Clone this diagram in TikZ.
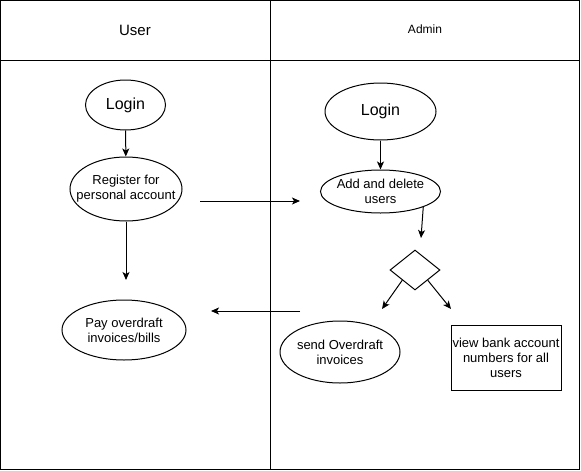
\documentclass[tikz,border=0pt]{standalone}
\usepackage{fontspec}
\setmainfont{Liberation Sans}
\usepackage {tikz}
\usetikzlibrary{shapes.geometric}
\usetikzlibrary{arrows.meta}
\tikzset{
    usecase/.style = {ellipse,draw,line width=1pt,inner sep=0pt,inner xsep=-6pt,align=center,font=\fontsize{13}{15}\selectfont},
    decision/.style = {diamond,draw,line width=1pt,inner sep=0pt,minimum width=50pt,minimum height=40pt},
    infobox/.style = {rectangle,draw,line width=1pt,inner sep=0pt,align=center,font=\fontsize{13}{15}\selectfont},
    lanetitle/.style = {inner sep=0pt},
    flow/.style = {line width=1pt,-{Stealth[length=8pt,width=7pt,inset=2pt]}}}

\begin{document}
\begin{tikzpicture}[x=1pt,y=-1pt]
        \useasboundingbox (0,0) rectangle (581,471);
        \draw[line width=1pt] (0.5,0.5) rectangle (579.5,469.5);
        \draw[line width=1pt] (0.5,60) -- (579.5,60) (270,0.5) -- (270,469.5);
        \node[lanetitle,font=\fontsize{15}{17}\selectfont] (user) at (135,30) {User};
        \node[lanetitle,font=\fontsize{12}{14}\selectfont] (admin) at (425,29) {Admin};
        \node[usecase,minimum width=80pt,minimum height=50pt,font=\fontsize{16}{18}\selectfont] (ulogin) at (125.5,105) {Login};
        \node[usecase,minimum width=112pt,minimum height=64pt,inner xsep=-14pt] (register) at (126,189) {Register for\\personal account};
        \node[usecase,minimum width=124pt,minimum height=60pt] (pay) at (124,330) {Pay overdraft\\invoices/bills};
        \node[usecase,minimum width=111pt,minimum height=57pt,font=\fontsize{16}{18}\selectfont] (alogin) at (380.5,111.5) {Login};
        \node[usecase,minimum width=120pt,minimum height=43pt] (adddel) at (380.5,191.5) {Add and delete\\users};
        \node[decision] (choice) at (415,270) {};
        \node[usecase,minimum width=120pt,minimum height=62pt] (send) at (340,352) {send Overdraft\\invoices};
        \node[infobox,minimum width=110pt,minimum height=65pt] (view) at (506,357.5) {view bank account\\numbers for all\\users};
        \coordinate (regend) at (126,280);
        \coordinate (xferA) at (200,201);
        \coordinate (xferB) at (300,201);
        \coordinate (backA) at (300,311);
        \coordinate (backB) at (211,311);
        \coordinate (addend) at (421,238);
        \coordinate (sendtip) at (382,309);
        \coordinate (viewtip) at (451,309);
        \draw[flow] (ulogin) -- (register);
        \draw[flow] (register) -- (regend);
        \draw[flow] (xferA) -- (xferB);
        \draw[flow] (backA) -- (backB);
        \draw[flow] (alogin) -- (adddel);
        \draw[flow] (adddel.-20) -- (addend);
        \draw[flow] (choice.south west) -- (sendtip);
        \draw[flow] (choice.south east) -- (viewtip);
\end{tikzpicture}
\end{document}
